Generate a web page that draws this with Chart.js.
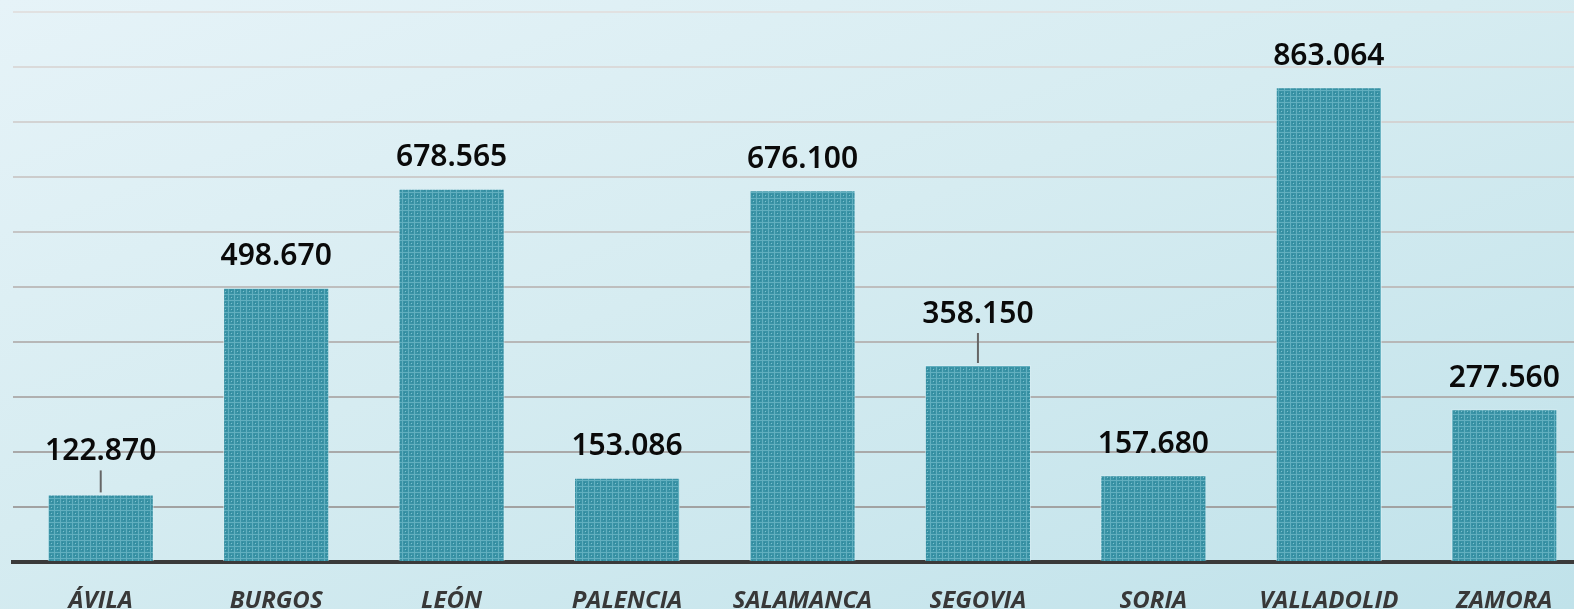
<!DOCTYPE html>
<html>
<head>
<meta charset="utf-8">
<script src="https://cdn.jsdelivr.net/npm/chart.js@4.4.1/dist/chart.umd.min.js"></script>
<style>
  html, body { margin: 0; padding: 0; }
  body {
    width: 1574px; height: 609px; overflow: hidden;
    background: linear-gradient(160deg, #e6f3f8 0%, #d6ecf1 45%, #c0e2ea 100%);
  }
  #wrap { width: 1592px; height: 609px; position: relative; }
</style>
</head>
<body>
<div id="wrap"><canvas id="provChart"></canvas></div>
<script>
// Provinces of Castilla y León
const provincias = ['ÁVILA', 'BURGOS', 'LEÓN', 'PALENCIA', 'SALAMANCA', 'SEGOVIA', 'SORIA', 'VALLADOLID', 'ZAMORA'];
const valores = [122870, 498670, 678565, 153086, 676100, 358150, 157680, 863064, 277560];
const yTicks = [0, 100000, 200000, 300000, 400000, 500000, 600000, 700000, 800000, 900000, 1000000];

// labels lifted a bit more with a small leader line
const leaderExtra = { 0: 12, 5: 20 };

function makePattern() {
  const c = document.createElement('canvas');
  c.width = 6; c.height = 6;
  const g = c.getContext('2d');
  g.fillStyle = '#3a93a6';
  g.fillRect(0, 0, 6, 6);
  g.fillStyle = '#62afbf';
  g.fillRect(0, 0, 6, 1);
  g.fillRect(0, 0, 1, 6);
  g.fillStyle = '#7cc0cd';
  g.fillRect(3, 3, 1, 1);
  g.fillStyle = '#2f889b';
  g.fillRect(2, 2, 1, 1);
  g.fillRect(4, 4, 1, 1);
  return g.createPattern(c, 'repeat');
}

function fmt(v) {
  return v.toString().replace(/\B(?=(\d{3})+(?!\d))/g, '.');
}

const valueLabels = {
  id: 'valueLabels',
  afterDatasetsDraw(chart) {
    const ctx = chart.ctx;
    const meta = chart.getDatasetMeta(0);
    ctx.save();
    ctx.font = '600 30px "Noto Sans"';
    ctx.fillStyle = '#0a0a0a';
    ctx.textAlign = 'center';
    ctx.textBaseline = 'middle';
    meta.data.forEach((bar, i) => {
      const extra = leaderExtra[i] || 0;
      const y = bar.y - 31 - extra;
      if (extra) {
        ctx.strokeStyle = '#666';
        ctx.lineWidth = 2;
        ctx.beginPath();
        ctx.moveTo(bar.x, y + 19);
        ctx.lineTo(bar.x, bar.y - 2);
        ctx.stroke();
      }
      ctx.fillText(fmt(valores[i]), bar.x, y);
    });
    ctx.restore();
  }
};

const ctx = document.getElementById('provChart').getContext('2d');

new Chart(ctx, {
  type: 'bar',
  data: {
    labels: provincias,
    datasets: [{
      data: valores,
      backgroundColor: makePattern(),
      borderColor: 'rgba(220,240,245,0.6)',
      borderWidth: 1,
      barPercentage: 0.605,
      categoryPercentage: 1
    }]
  },
  plugins: [valueLabels],
  options: {
    responsive: true,
    maintainAspectRatio: false,
    animation: false,
    layout: { padding: { left: 13, top: 12, right: 0, bottom: 0 } },
    plugins: { legend: { display: false }, tooltip: { enabled: false } },
    scales: {
      x: {
        grid: { display: false },
        border: { color: '#3a3a3a', width: 4 },
        ticks: {
          color: '#383838',
          font: { family: '"Open Sans"', size: 24, style: 'italic', weight: '700' },
          padding: 17,
          maxRotation: 0,
          autoSkip: false
        },
        afterFit(scale) { scale.height = 47; }
      },
      y: {
        min: 0,
        max: 1000000,
        afterBuildTicks(scale) { scale.ticks = yTicks.map(v => ({ value: v })); },
        ticks: { display: false },
        border: { display: false },
        afterFit(scale) { scale.width = 0; },
        grid: {
          drawTicks: false,
          lineWidth: 2,
          color(c) {
            const t = c.index / 10;
            const v = Math.round(155 + t * 70);
            return 'rgb(' + v + ',' + v + ',' + v + ')';
          }
        }
      }
    }
  }
});
</script>
</body>
</html>
